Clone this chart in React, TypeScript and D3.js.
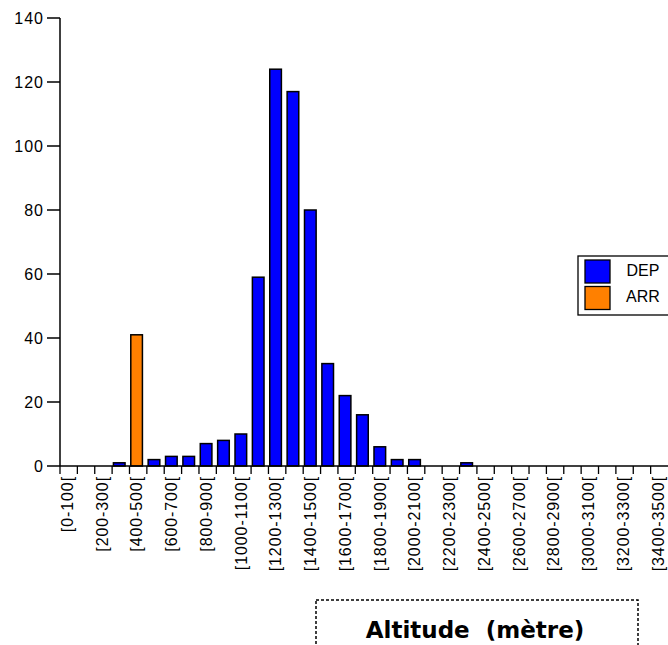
import React from "react";
import * as d3 from "d3";

const categories: string[] = [
  "[0-100[", "[100-200[", "[200-300[", "[300-400[", "[400-500[", "[500-600[", "[600-700[",
  "[700-800[", "[800-900[", "[900-1000[", "[1000-1100[", "[1100-1200[", "[1200-1300[",
  "[1300-1400[", "[1400-1500[", "[1500-1600[", "[1600-1700[", "[1700-1800[", "[1800-1900[",
  "[1900-2000[", "[2000-2100[", "[2100-2200[", "[2200-2300[", "[2300-2400[", "[2400-2500[",
  "[2500-2600[", "[2600-2700[", "[2700-2800[", "[2800-2900[", "[2900-3000[", "[3000-3100[",
  "[3100-3200[", "[3200-3300[", "[3300-3400[", "[3400-3500[",
];

const depValues: number[] = [
  0, 0, 0, 1, 0, 2, 3, 3, 7, 8, 10, 59, 124, 117, 80, 32, 22, 16, 6, 2, 2, 0, 0, 1,
  0, 0, 0, 0, 0, 0, 0, 0, 0, 0, 0,
];

const arrValues: number[] = [
  0, 0, 0, 0, 41, 0, 0, 0, 0, 0, 0, 0, 0, 0, 0, 0, 0, 0, 0, 0, 0, 0, 0, 0,
  0, 0, 0, 0, 0, 0, 0, 0, 0, 0, 0,
];

const yTicks: number[] = [0, 20, 40, 60, 80, 100, 120, 140];
const seriesNames: string[] = ["DEP", "ARR"];
const seriesColors: string[] = ["#0000FF", "#FF8000"];
const axisTitle = "Altitude\u00a0\u00a0(mètre)";

export default function App() {
  const W = 668;
  const H = 645;
  const x0 = 60;
  const x1 = 668;
  const yBase = 466;
  const yTop = 18;

  const x = d3.scaleBand<string>().domain(categories).range([x0, x1]).paddingInner(0).paddingOuter(0);
  const y = d3.scaleLinear().domain([0, 140]).range([yBase, yTop]);
  const bw = x.bandwidth();
  const barW = bw * 0.67;
  const barOff = 1.3;

  const font = "'Liberation Sans', Arial, sans-serif";
  const series = [depValues, arrValues];

  return (
    <svg width={W} height={H} style={{ position: "absolute", left: 0, top: 0, background: "#fff" }}>
      {series.map((vals, si) =>
        vals.map((v, i) =>
          v > 0 ? (
            <rect
              key={`b-${si}-${i}`}
              x={(x(categories[i]) as number) + barOff}
              y={y(v)}
              width={barW}
              height={yBase - y(v)}
              fill={seriesColors[si]}
              stroke="#000"
              strokeWidth={1.5}
            />
          ) : null
        )
      )}
      <line x1={x0} x2={x0} y1={yTop} y2={yBase} stroke="#000" strokeWidth={1.5} />
      {yTicks.map((t) => (
        <g key={`yt-${t}`}>
          <line x1={47} x2={x0} y1={y(t)} y2={y(t)} stroke="#000" strokeWidth={1.5} />
          <text
            x={44}
            y={y(t)}
            dy="0.36em"
            textAnchor="end"
            fontFamily={font}
            fontSize={16}
            letterSpacing={1}
            fill="#000"
          >
            {t}
          </text>
        </g>
      ))}
      <line x1={x0} x2={x1} y1={yBase} y2={yBase} stroke="#000" strokeWidth={1.5} />
      {categories.map((c, i) => (
        <line
          key={`xt-${i}`}
          x1={x(c) as number}
          x2={x(c) as number}
          y1={yBase}
          y2={yBase + 8}
          stroke="#000"
          strokeWidth={1.3}
        />
      ))}
      {categories.map((c, i) =>
        i % 2 === 0 ? (
          <text
            key={`xl-${i}`}
            transform={`translate(${(x(c) as number) + bw / 2 - 1.5},${yBase + 10}) rotate(-90)`}
            textAnchor="end"
            dy="0.36em"
            fontFamily={font}
            fontSize={16}
            letterSpacing={0.9}
            fill="#000"
          >
            {c}
          </text>
        ) : null
      )}
      <rect x={578} y={256} width={100} height={59} fill="#fff" stroke="#000" strokeWidth={1.3} />
      {seriesNames.map((n, i) => (
        <g key={`lg-${n}`}>
          <rect
            x={585}
            y={260 + i * 26.5}
            width={25}
            height={23}
            fill={seriesColors[i]}
            stroke="#000"
            strokeWidth={1.3}
          />
          <text
            x={643}
            y={276 + i * 26}
            textAnchor="middle"
            fontFamily={font}
            fontSize={16}
            fill="#000"
          >
            {n}
          </text>
        </g>
      ))}
      <rect
        x={316}
        y={600}
        width={322}
        height={80}
        fill="none"
        stroke="#000"
        strokeWidth={1.5}
        strokeDasharray="3,2"
      />
      <text
        x={475}
        y={638}
        textAnchor="middle"
        fontFamily="'DejaVu Sans', Verdana, sans-serif"
        fontWeight="bold"
        fontSize={23}
        fill="#000"
      >
        {axisTitle}
      </text>
    </svg>
  );
}
